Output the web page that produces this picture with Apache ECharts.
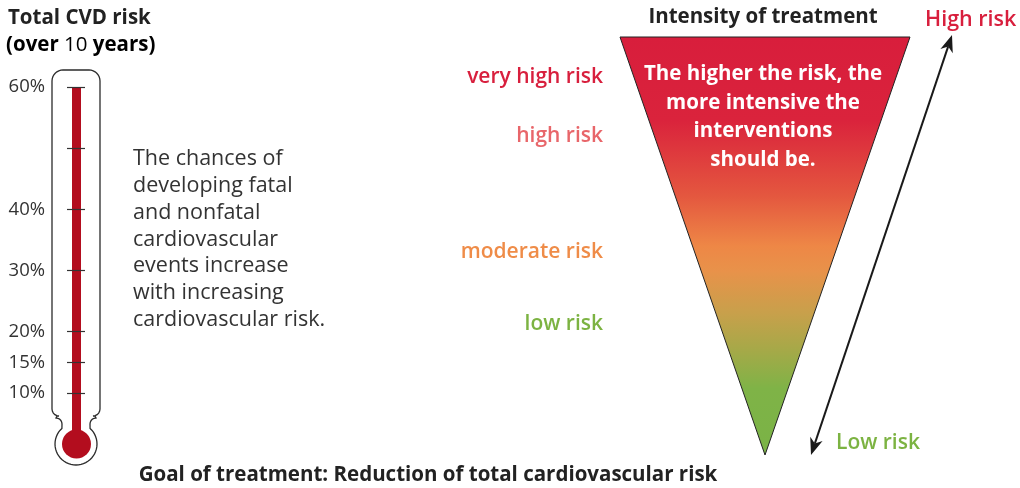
<!DOCTYPE html>
<html><head><meta charset="utf-8">
<script src="https://cdn.jsdelivr.net/npm/echarts@6/dist/echarts.min.js"></script>
<style>html,body{margin:0;padding:0;background:#fff}#c{width:1020px;height:488px}</style>
</head><body><div id="c"></div>
<script>
// ---- data ----
const thermoCategories = ['Total CVD risk'];
const thermoValues = [60];
const tickValues = [10, 15, 20, 30, 40, 50, 60];
const labelValues = [10, 15, 20, 30, 40, 60];
const riskLevels = ['very high risk', 'high risk', 'moderate risk', 'low risk'];
const intensityValues = [100];
const descriptionLines = ['The chances of', 'developing fatal', 'and nonfatal', 'cardiovascular', 'events increase', 'with increasing', 'cardiovascular risk.'];
const funnelLines = ['The higher the risk, the', 'more intensive the', 'interventions', 'should be.'];

// ---- layout / style ----
const FONT = '"Open Sans", "Noto Sans", sans-serif';
const RED = '#b30d1e';
const riskLabelY = [77, 136, 252, 324];
const riskColors = ['#d81f3d', '#e8666a', '#ef8c48', '#7cb342'];

const chart = echarts.init(document.getElementById('c'));

// arrow geometry
const A0 = [811, 455], A1 = [952, 35];
function arrowHead(tip, from) {
  const dx = tip[0] - from[0], dy = tip[1] - from[1];
  const L = Math.hypot(dx, dy), ux = dx / L, uy = dy / L, nx = -uy, ny = ux;
  const len = 17, hw = 6.5, notch = 12;
  return {
    pts: [tip, [tip[0] - len * ux + hw * nx, tip[1] - len * uy + hw * ny],
          [tip[0] - notch * ux, tip[1] - notch * uy],
          [tip[0] - len * ux - hw * nx, tip[1] - len * uy - hw * ny]],
    inner: [tip[0] - notch * ux, tip[1] - notch * uy]
  };
}
const hTop = arrowHead(A1, A0), hBot = arrowHead(A0, A1);

// thermometer outline points
function arcPts(cx, cy, r, a0, a1, n) {
  const out = [];
  for (let i = 0; i <= n; i++) { const a = a0 + (a1 - a0) * i / n; out.push([cx + r * Math.cos(a), cy + r * Math.sin(a)]); }
  return out;
}
const outline = [].concat(
  arcPts(63, 81, 11, Math.PI, 1.5 * Math.PI, 8),
  arcPts(89, 81, 11, 1.5 * Math.PI, 2 * Math.PI, 8),
  [[100, 409]],
  arcPts(93, 409, 7, 0, 0.5 * Math.PI, 5),
  [[95, 416]],
  arcPts(96, 424, 6, 1.5 * Math.PI, Math.PI, 5),
  (function () { const cx = 76, cy = 444, r = 21; const a = Math.atan2(428.5 - cy, 90 - cx); const b = Math.atan2(428.5 - cy, 62 - cx) + 2 * Math.PI; return arcPts(cx, cy, r, a, b, 40); })(),
  arcPts(56, 424, 6, 2 * Math.PI, 1.5 * Math.PI, 5),
  [[57, 416]],
  arcPts(59, 409, 7, 0.5 * Math.PI, Math.PI, 5)
);

const graphics = [];
graphics.push({ type: 'polygon', z: 0, shape: { points: outline }, style: { fill: '#fff', stroke: '#2b2b2b', lineWidth: 1.3 } });
graphics.push({ type: 'circle', z: 1, shape: { cx: 76.5, cy: 444, r: 14.5 }, style: { fill: RED } });

// titles
graphics.push({ type: 'text', x: 8, y: 18, z: 10, style: { text: 'Total CVD risk', font: 'bold 20.5px ' + FONT, fill: '#222', verticalAlign: 'middle' } });
graphics.push({
  type: 'text', x: 6, y: 45, z: 10,
  style: {
    text: '{b|(over }{n|10}{b| years)}', verticalAlign: 'middle',
    rich: { b: { fontWeight: 'bold', fontSize: 20.5, fontFamily: FONT, color: '#222' }, n: { fontSize: 20.5, fontFamily: FONT, color: '#222' } }
  }
});
graphics.push({ type: 'text', x: 133, y: 146, z: 10, style: { text: descriptionLines.join('\n'), font: '21.5px ' + FONT, fill: '#333', lineHeight: 26.7 } });
graphics.push({ type: 'text', x: 428, y: 475, z: 10, style: { text: 'Goal of treatment: Reduction of total cardiovascular risk', font: 'bold 20.5px ' + FONT, fill: '#222', align: 'center', verticalAlign: 'middle' } });
graphics.push({ type: 'text', x: 763, y: 17, z: 10, style: { text: 'Intensity of treatment', font: 'bold 20.5px ' + FONT, fill: '#222', align: 'center', verticalAlign: 'middle' } });
graphics.push({ type: 'text', x: 763, y: 60, z: 10, style: { text: funnelLines.join('\n'), font: 'bold 20.5px ' + FONT, fill: '#fff', align: 'center', lineHeight: 28.5 } });
riskLevels.forEach((t, i) => {
  graphics.push({ type: 'text', x: 603, y: riskLabelY[i], z: 10, style: { text: t, font: '600 21px ' + FONT, fill: riskColors[i], align: 'right', verticalAlign: 'middle' } });
});
graphics.push({ type: 'text', x: 925, y: 20, z: 10, style: { text: 'High risk', font: '600 21.5px ' + FONT, fill: '#d81f3d', verticalAlign: 'middle' } });
graphics.push({ type: 'text', x: 836, y: 443, z: 10, style: { text: 'Low risk', font: '600 21px ' + FONT, fill: '#7cb342', verticalAlign: 'middle' } });
graphics.push({ type: 'line', z: 5, shape: { x1: hBot.inner[0], y1: hBot.inner[1], x2: hTop.inner[0], y2: hTop.inner[1] }, style: { stroke: '#1a1a1a', lineWidth: 2 } });
graphics.push({ type: 'polygon', z: 5, shape: { points: hTop.pts }, style: { fill: '#1a1a1a' } });
graphics.push({ type: 'polygon', z: 5, shape: { points: hBot.pts }, style: { fill: '#1a1a1a' } });

chart.setOption({
  animation: false,
  textStyle: { fontFamily: FONT },
  grid: { left: 67, top: 87, width: 19, height: 367, containLabel: false },
  xAxis: { type: 'category', data: thermoCategories, show: false },
  yAxis: {
    type: 'value', min: 0, max: 60, z: 5,
    axisLine: { show: false },
    splitLine: { show: false },
    axisTick: { show: true, inside: true, length: 18, customValues: tickValues, lineStyle: { color: '#333', width: 1.2 } },
    axisLabel: { customValues: labelValues, formatter: '{value}%', margin: 22, fontSize: 18.5, color: '#333', fontFamily: FONT }
  },
  graphic: graphics,
  series: [
    { type: 'bar', data: thermoValues, barWidth: 9, z: 2, itemStyle: { color: RED }, silent: true },
    {
      type: 'funnel', left: 620, top: 37, width: 290, height: 418,
      min: 0, max: 100, minSize: '0%', maxSize: '100%', sort: 'descending', gap: 0,
      label: { show: false }, labelLine: { show: false }, silent: true,
      emphasis: { disabled: true },
      itemStyle: {
        borderColor: '#222', borderWidth: 1,
        color: {
          type: 'linear', x: 0, y: 0, x2: 0, y2: 1,
          colorStops: [
            { offset: 0, color: '#d81e3c' },
            { offset: 0.2, color: '#da233c' },
            { offset: 0.38, color: '#e4573f' },
            { offset: 0.5, color: '#ee8746' },
            { offset: 0.56, color: '#e8924a' },
            { offset: 0.66, color: '#c8a04b' },
            { offset: 0.75, color: '#a5a948' },
            { offset: 0.84, color: '#7fb347' },
            { offset: 1, color: '#7ab346' }
          ]
        }
      },
      data: intensityValues.map(v => ({ value: v, name: 'Intensity of treatment' }))
    }
  ]
});
</script></body></html>
